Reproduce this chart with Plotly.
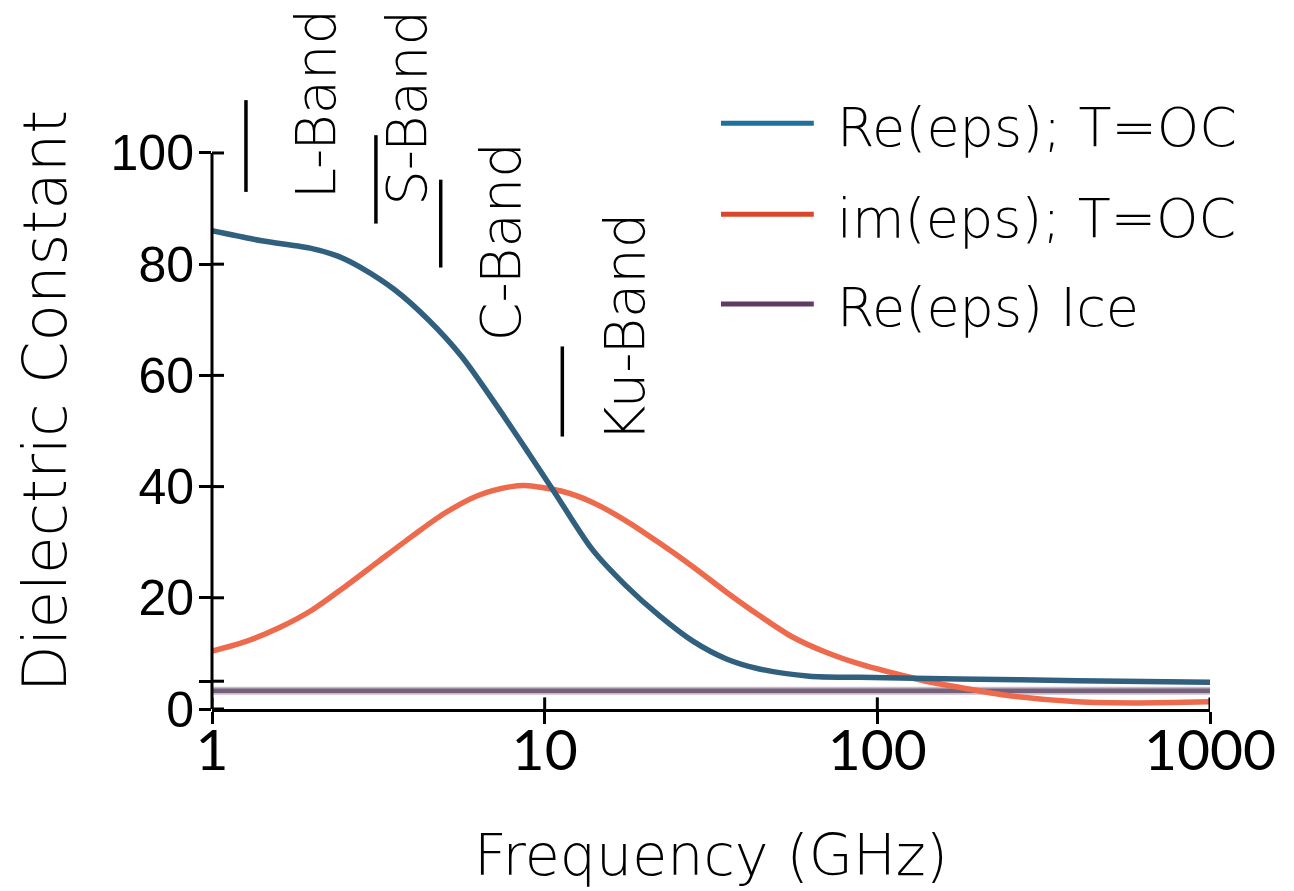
import math
import plotly.graph_objects as go

# ---------------- data ----------------
freq_re = [1, 1.41, 2.0, 2.4, 2.82, 3.54, 4.47, 5.63, 7.07, 8.93, 10.7, 13.9, 17.6, 22.2, 27.9, 35.2, 44.2, 62.5, 88.3, 176, 400, 1000]
re_eps = [86.0, 84.2, 82.8, 81.4, 79.3, 75.4, 70.0, 63.4, 55.1, 46.1, 39.0, 28.7, 22.1, 16.7, 12.2, 9.0, 7.2, 5.9, 5.7, 5.4, 5.1, 4.8]

freq_im = [1, 1.26, 1.59, 2.0, 2.51, 3.16, 3.98, 5.0, 6.31, 7.94, 8.7, 11.2, 13.9, 17.6, 22.2, 27.9, 35.2, 44.2, 55.4, 70.1, 88.3, 111, 140, 176, 250, 400, 600, 1000]
im_eps = [10.4, 12.1, 14.6, 17.8, 22.0, 26.5, 31.0, 35.2, 38.4, 40.0, 40.2, 39.2, 37.2, 33.8, 29.8, 25.6, 21.0, 16.8, 13.0, 10.2, 8.1, 6.5, 5.0, 3.9, 2.4, 1.3, 1.1, 1.3]

freq_ice = [1, 1000]
re_ice = [3.3, 3.3]

series_names = ["Re(eps); T=OC", "im(eps); T=OC", "Re(eps) Ice"]
line_colors = ["#31607f", "#ee6a4c", "#75617b"]
legend_colors = ["#1f6f9f", "#d9462b", "#5f3b66"]

band_names = ["L-Band", "S-Band", "C-Band", "Ku-Band"]
band_freq = [1.265, 3.11, 4.87, 11.3]
band_y0 = [93.0, 87.3, 79.4, 49.0]
band_y1 = [109.5, 103.2, 95.2, 65.2]
band_label_x = [2.05, 3.85, 7.37, 17.4]
band_label_y = [108.7, 108.1, 84.0, 68.6]

y_tickvals = [0, 5, 20, 40, 60, 80, 100]
y_ticktext = ["0", "", "20", "40", "60", "80", "100"]
x_tickvals = [1, 10, 100, 1000]
x_ticktext = ["1", "10", "100", "1000"]

x_title = "Frequency (GHz)"
y_title = "Dielectric Constant"

TEXT_FONT = "DejaVu Sans, Lato, sans-serif"
Y_TICK_FONT = "Liberation Sans, Arial, sans-serif"
X_TICK_FONT = "Lato, sans-serif"

# page body has an 8px default margin; compensate so the plot sits where intended
PAGE_OFFSET = 8

# ---------------- figure ----------------
fig = go.Figure()
fig.add_trace(go.Scatter(x=freq_ice, y=re_ice, mode="lines", name=series_names[2],
                         line=dict(color="#c9bcc9", width=8), showlegend=False, hoverinfo="skip"))
fig.add_trace(go.Scatter(x=freq_ice, y=re_ice, mode="lines", name=series_names[2],
                         line=dict(color=line_colors[2], width=4.5), showlegend=False))
fig.add_trace(go.Scatter(x=freq_im, y=im_eps, mode="lines", name=series_names[1],
                         line=dict(color=line_colors[1], width=5.5, shape="spline", smoothing=0.8),
                         showlegend=False))
fig.add_trace(go.Scatter(x=freq_re, y=re_eps, mode="lines", name=series_names[0],
                         line=dict(color=line_colors[0], width=5.5, shape="spline", smoothing=0.8),
                         showlegend=False))

shapes = []
# band marker lines
for f, y0, y1 in zip(band_freq, band_y0, band_y1):
    shapes.append(dict(type="line", xref="x", yref="y", x0=f, x1=f, y0=y0, y1=y1,
                       line=dict(color="black", width=3.5)))
# y axis line (0..100 only)
shapes.append(dict(type="line", xref="paper", yref="y", x0=0, x1=0, y0=0, y1=max(y_tickvals),
                   line=dict(color="black", width=3)))
# inner halves of crossing ticks
for v in y_tickvals:
    shapes.append(dict(type="line", xref="paper", yref="y", x0=0, x1=0.012, y0=v, y1=v,
                       line=dict(color="black", width=3)))
for v in x_tickvals:
    shapes.append(dict(type="line", xref="x", yref="paper", x0=v, x1=v, y0=0, y1=0.018,
                       line=dict(color="black", width=3)))

# custom legend
legend_y = [0.908, 0.767, 0.628]
for name, col, ly in zip(series_names, legend_colors, legend_y):
    shapes.append(dict(type="line", xref="paper", yref="paper", x0=0.51, x1=0.603, y0=ly, y1=ly,
                       line=dict(color=col, width=5)))

annotations = []
for name, ly in zip(series_names, legend_y):
    annotations.append(dict(text=name, xref="paper", yref="paper", x=0.624, y=ly - 0.006,
                            xanchor="left", yanchor="middle", showarrow=False,
                            font=dict(family=TEXT_FONT, size=54, color="black", weight=200)))
for name, lx, ly in zip(band_names, band_label_x, band_label_y):
    annotations.append(dict(text=name, xref="x", yref="y", x=math.log10(lx), y=ly, textangle=-90,
                            xanchor="center", yanchor="middle", showarrow=False,
                            font=dict(family=TEXT_FONT, size=56, color="black", weight=200)))
# y axis title
annotations.append(dict(text=y_title, xref="paper", yref="paper", x=-0.168, y=0.4775,
                        textangle=-90, xanchor="center", yanchor="middle", showarrow=False,
                        font=dict(family=TEXT_FONT, size=61, color="black", weight=200)))

fig.update_layout(
    width=1294, height=891,
    margin=dict(l=212 - PAGE_OFFSET, r=84 + PAGE_OFFSET, t=64 - PAGE_OFFSET, b=182 + PAGE_OFFSET),
    paper_bgcolor="white", plot_bgcolor="white",
    shapes=shapes, annotations=annotations,
    showlegend=False,
    xaxis=dict(type="log", range=[0, 3], tickvals=x_tickvals, ticktext=x_ticktext,
               ticks="outside", ticklen=12, tickwidth=3, tickcolor="black", automargin=False,
               ticklabelstandoff=-22,
               showline=True, linewidth=3, linecolor="black", showgrid=False, zeroline=False,
               tickfont=dict(family=X_TICK_FONT, size=57, color="black"),
               title=dict(text=x_title, standoff=54,
                          font=dict(family=TEXT_FONT, size=57, color="black", weight=200))),
    yaxis=dict(range=[0, 116], tickvals=y_tickvals, ticktext=y_ticktext,
               ticks="outside", ticklen=12, tickwidth=3, tickcolor="black", automargin=False,
               ticklabelstandoff=-5,
               showline=False, showgrid=False, zeroline=False,
               tickfont=dict(family=Y_TICK_FONT, size=50, color="black")),
)

fig.write_html("out.html")
